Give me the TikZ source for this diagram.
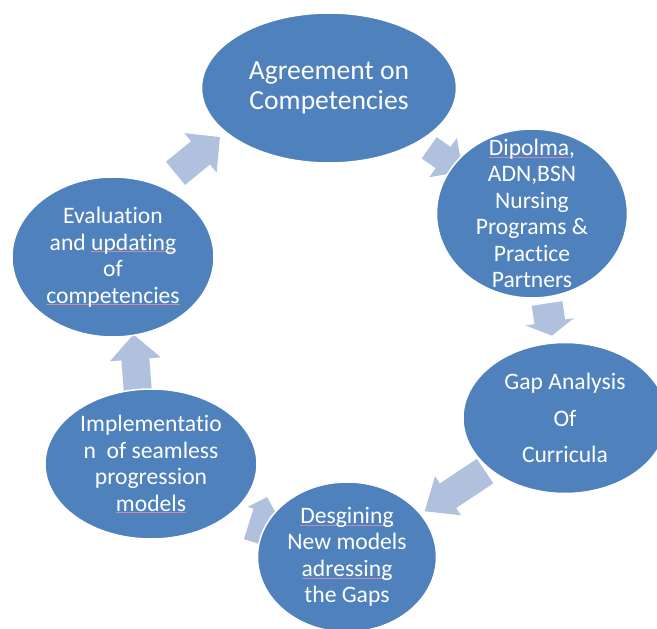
\documentclass[tikz,border=0pt]{standalone}
\usepackage{fontspec}
\setmainfont{Carlito}[Ligatures=NoCommon]
\usetikzlibrary{shapes.geometric}

\definecolor{stagefill}{RGB}{79,129,189}
\definecolor{arrowfill}{RGB}{176,193,222}
\definecolor{misspell}{RGB}{200,140,170}

% thin spell-check line under a word
\newcommand\spellmark[1]{\setbox0\hbox{#1}\leavevmode\rlap{\textcolor{misspell}{\rule[-1.8pt]{\wd0}{0.35pt}}}\box0}

\tikzset{
  stage/.style={ellipse, fill=stagefill, draw=white, line width=1.5pt, inner sep=0pt},
  stagetext/.style={text=white, align=center, inner sep=0pt, font=\fontsize{23.6}{26.5}\selectfont},
  % block arrow: #1 length, #2 shaft width, #3 head width, #4 head length
  pics/blockarrow/.style n args={4}{code={
    \fill[arrowfill] (0,-#2/2) -- (#1-#4,-#2/2) -- (#1-#4,-#3/2) -- (#1,0)
      -- (#1-#4,#3/2) -- (#1-#4,#2/2) -- (0,#2/2) -- cycle;
  }}
}

\begin{document}
\begin{tikzpicture}[x=1pt,y=-1pt]
\useasboundingbox (0,0) rectangle (657,629);
\clip (0,0) rectangle (657,629);

% arrows between the stages (drawn first, partly covered by the ellipses)
\pic[rotate=-35]    at (429.2,147.8) {blockarrow={41}{26}{48}{24}};
\pic[rotate=-81.3]  at (547,303.5)   {blockarrow={32.5}{31}{49}{14}};
\pic[rotate=-146.4] at (485.1,471.1) {blockarrow={72.5}{29.5}{47}{28}};
\pic[rotate=72.5]   at (253,542)     {blockarrow={47}{19}{31}{15}};
\pic[rotate=94.4]   at (138.5,400)   {blockarrow={65.8}{28}{51}{25}};
\pic[rotate=39.2]   at (175.5,173.3) {blockarrow={57.3}{30}{51}{25}};

% stages
\node[stage, minimum width=255pt, minimum height=150pt] (agree) at (329,88) {};
\node[stage, minimum width=191pt, minimum height=169pt] (dip) at (532,213.5) {};
\node[stage, minimum width=204pt, minimum height=151pt] (gap) at (565,418) {};
\node[stage, minimum width=179pt, minimum height=150pt] (des) at (347,557) {};
\node[stage, minimum width=212pt, minimum height=150pt] (impl) at (151,464) {};
\node[stage, minimum width=202pt, minimum height=160pt] (eval) at (113,257) {};

% stage texts
\node[stagetext, font=\fontsize{27.6}{30}\selectfont] (agreeText) at (agree.center)
  {Agreement on\\Competencies};
\node[stagetext] (dipText) at (dip.center)
  {\spellmark{Dipolma},\\ADN,BSN\\Nursing\\Programs \&\\Practice\\Partners};
\node[stagetext, font=\fontsize{23.6}{36.7}\selectfont] (gapText) at (gap.center)
  {Gap Analysis\\Of\\Curricula};
\node[stagetext] (desText) at (des.center)
  {\spellmark{Desgining}\\New models\\\spellmark{adressing}\\the Gaps};
\node[stagetext] (implText) at (impl.center)
  {Implementatio\\n\ \ of seamless\\progression\\\spellmark{models}};
\node[stagetext] (evalText) at (eval.center)
  {Evaluation\\and \spellmark{updating}\\of\\\spellmark{competencies}};
\end{tikzpicture}
\end{document}
